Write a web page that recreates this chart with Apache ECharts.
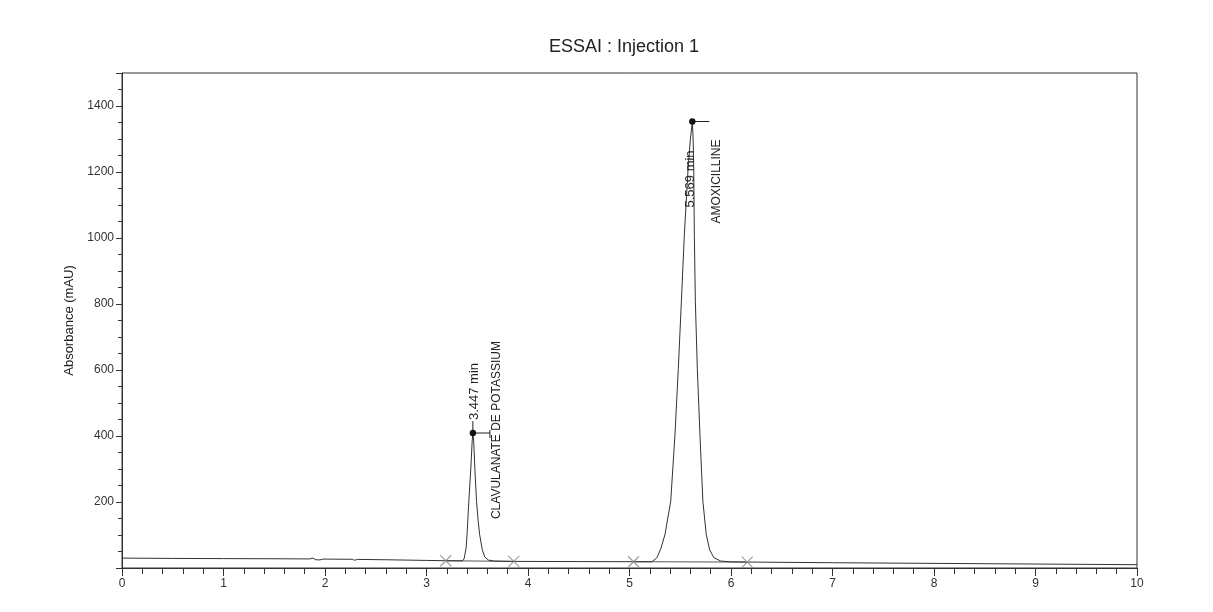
<!DOCTYPE html>
<html>
<head>
<meta charset="utf-8">
<script src="https://cdn.jsdelivr.net/npm/echarts@6/dist/echarts.min.js"></script>
<style>
  html, body { margin: 0; padding: 0; background: #fff; }
  #chart { width: 1213px; height: 612px; }
</style>
</head>
<body>
<div id="chart"></div>
<script>
// chromatogram trace (time in min, absorbance in mAU)
const signalTime = [
  0.00, 0.50, 1.00, 1.50, 1.85, 1.88, 1.91, 1.95, 1.98, 2.20, 2.27, 2.29, 2.32, 2.60, 3.00, 3.20,
  3.35, 3.37, 3.39, 3.40, 3.417, 3.437, 3.45, 3.457, 3.465, 3.476, 3.493, 3.51, 3.523, 3.55, 3.575, 3.61, 3.67,
  3.86, 4.50, 5.04, 5.22, 5.27, 5.31, 5.35, 5.406, 5.448, 5.481, 5.511, 5.54, 5.577, 5.60, 5.619,
  5.627, 5.633, 5.639, 5.649, 5.668, 5.694, 5.723, 5.756, 5.79, 5.832, 5.90, 6.00, 6.16, 7.00, 8.00, 9.00, 10.00
];
const signalAbs = [
  30, 29, 28.5, 28, 27.5, 30, 25, 24.5, 27, 26.5, 26.5, 23.5, 26, 25, 23, 22,
  21.5, 27, 60, 105, 202, 303, 385, 409, 385, 303, 202, 140, 102, 55, 33, 24, 21,
  20, 19.5, 19, 19, 31, 60, 102, 202, 404, 605, 807, 1008, 1209, 1300, 1353,
  1300, 1209, 1008, 807, 605, 404, 202, 102, 55, 31, 21, 18.5, 18, 16, 14, 12, 10
];

// integration start / end marks
const markTime = [3.19, 3.86, 5.04, 6.16];
const markAbs = [22, 20, 19, 18];

// identified peaks (apex position as drawn on the scan)
const peakTimes = [3.457, 5.619];
const peakHeights = [409, 1353];
const peakTimeLabels = ['3.447 min', '5.569 min'];
const peakNames = ['CLAVULANATE DE POTASSIUM', 'AMOXICILLINE'];

const yTicks = [200, 400, 600, 800, 1000, 1200, 1400];

const FONT = '"Liberation Sans", Arial, sans-serif';

let chart = echarts.init(document.getElementById('chart'));

let trace = signalTime.map((t, i) => [t, signalAbs[i]]);
let marks = markTime.map((t, i) => [t, markAbs[i]]);
let baselines = [marks[0], marks[1], ['-', '-'], marks[2], marks[3]];
let peaks = peakTimes.map((t, i) => [t, peakHeights[i], i]);

function renderPeak(params, api) {
  let p = api.coord([api.value(0), api.value(1)]);
  let i = api.value(2);
  let high = api.value(1) > 1000;
  let line = { stroke: '#222', lineWidth: 1 };
  let children = [
    { type: 'line', shape: { x1: p[0], y1: p[1], x2: p[0] + 17, y2: p[1] }, style: line },
    {
      type: 'text',
      x: p[0] + (high ? -2 : 2),
      y: high ? p[1] + 86 : p[1] - 13,
      rotation: Math.PI / 2,
      style: {
        text: peakTimeLabels[i], fill: '#222', fontSize: 13, fontFamily: FONT,
        align: 'left', verticalAlign: 'middle'
      }
    },
    {
      type: 'text',
      x: p[0] + 24,
      y: high ? p[1] + 18 : p[1] - 92,
      rotation: Math.PI / 2,
      style: {
        text: peakNames[i], fill: '#222', fontSize: 12, fontFamily: FONT,
        align: 'right', verticalAlign: 'middle'
      }
    }
  ];
  if (!high) {
    children.push({ type: 'line', shape: { x1: p[0], y1: p[1], x2: p[0], y2: p[1] - 12 }, style: line });
    children.push({ type: 'line', shape: { x1: p[0] + 17, y1: p[1] - 3, x2: p[0] + 17, y2: p[1] + 5 }, style: line });
  }
  children.push({ type: 'circle', shape: { cx: p[0], cy: p[1], r: 3.2 }, style: { fill: '#111' } });
  return { type: 'group', children: children };
}

let option = {
  backgroundColor: '#fff',
  animation: false,
  title: {
    text: 'ESSAI : Injection 1',
    left: 544,
    top: 33,
    textStyle: { fontSize: 18, fontWeight: 'normal', color: '#222', fontFamily: FONT }
  },
  grid: {
    left: 122, right: 76, top: 73, bottom: 44,
    show: true, borderColor: '#333', borderWidth: 1, backgroundColor: 'transparent'
  },
  xAxis: {
    type: 'value',
    min: 0, max: 10, interval: 1,
    axisLine: { lineStyle: { color: '#333', width: 1 } },
    axisTick: { length: 8, lineStyle: { color: '#333' } },
    minorTick: { show: true, splitNumber: 5, length: 6, lineStyle: { color: '#333' } },
    splitLine: { show: false },
    axisLabel: { margin: 10, fontSize: 12, color: '#333', fontFamily: FONT }
  },
  yAxis: {
    type: 'value',
    min: 0, max: 1500, interval: 200,
    name: 'Absorbance (mAU)',
    nameLocation: 'middle',
    nameGap: 42,
    nameTextStyle: { fontSize: 13, color: '#222', fontFamily: FONT },
    axisLine: { show: true, lineStyle: { color: '#333', width: 1 } },
    axisTick: { show: true, length: 6, lineStyle: { color: '#333' } },
    minorTick: { show: true, splitNumber: 4, length: 4, lineStyle: { color: '#333' } },
    splitLine: { show: false },
    axisLabel: {
      showMinLabel: false, showMaxLabel: false, margin: 8, fontSize: 12, color: '#333', fontFamily: FONT,
      formatter: v => yTicks.includes(v) ? String(v) : ''
    }
  },
  series: [
    {
      name: 'signal',
      type: 'line',
      data: trace,
      showSymbol: false,
      smooth: false,
      lineStyle: { color: '#333', width: 1 },
      z: 3
    },
    {
      name: 'baseline',
      type: 'line',
      data: baselines,
      showSymbol: false,
      connectNulls: false,
      lineStyle: { color: '#555', width: 1 },
      z: 2
    },
    {
      name: 'marks',
      type: 'scatter',
      data: marks,
      symbol: 'path://M0,0L10,10M10,0L0,10',
      symbolSize: 11,
      itemStyle: { color: 'none', borderColor: '#888', borderWidth: 1.2 },
      z: 4
    },
    {
      name: 'peaks',
      type: 'custom',
      data: peaks,
      renderItem: renderPeak,
      z: 5
    }
  ]
};

chart.setOption(option);
</script>
</body>
</html>
